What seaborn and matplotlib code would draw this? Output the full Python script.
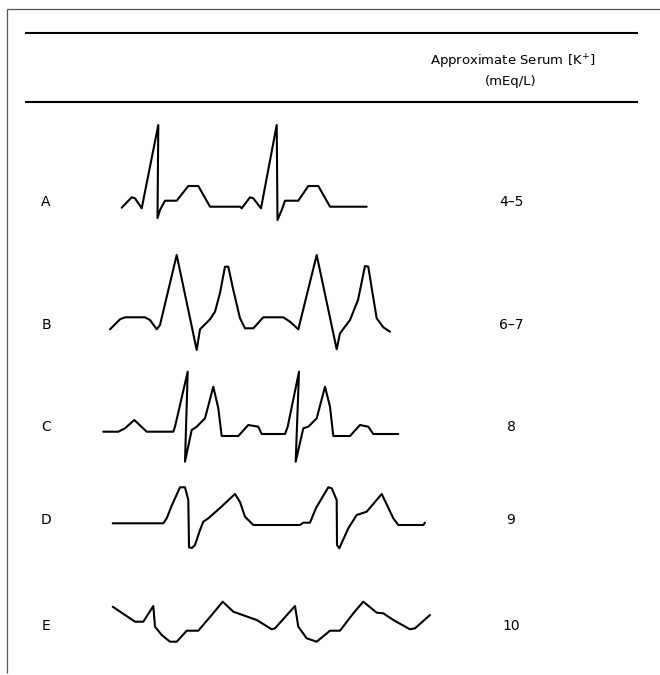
import numpy as np
import pandas as pd
import matplotlib
matplotlib.use("Agg")
import matplotlib.pyplot as plt
import seaborn as sns

# ---------------- data ----------------
rows = ["A", "B", "C", "D", "E"]
serum_k = ["4\u20135", "6\u20137", "8", "9", "10"]
header_line1 = "Approximate Serum [K$^{+}$]"
header_line2 = "(mEq/L)"

# traces: time (px-scale) and amplitude (px-scale, up positive, relative to baseline)
A_t = [121.7, 131.7, 135, 141.7, 158.3, 157.5, 160, 165, 176.7, 188.3, 198.3, 210, 240,
       241.7, 250, 253.3, 261, 276.7, 277.5, 281.7, 285, 298.3, 308.3, 318.3, 330, 366.7]
A_v = [-1, 9.4, 8.4, -1.6, 81.7, -11.3, -3.3, 6, 6, 20.7, 20.7, 0, 0,
       -1.6, 9.4, 8.4, -1.6, 81.7, -13.3, -3.3, 6, 6, 20.7, 20.7, 0, 0]

B_t = [110, 120, 125, 145, 150, 156.7, 160, 176.7, 196.7, 200, 210, 215, 220, 225, 228.3,
       233.3, 240, 245, 253.3, 263.3, 283.3, 290, 298.3, 316.7, 336.7, 340, 350, 358, 365,
       368.3, 372, 376.7, 383.3, 390]
B_v = [-4.3, 5.7, 7.7, 7.7, 5, -4.3, 0, 70, -25, -4.3, 5.7, 13.3, 32, 58.3, 58.3,
       35, 6.7, -3.3, -3.3, 7.7, 7.7, 3.3, -4.3, 70, -24.3, -8.3, 5, 25, 59,
       58.3, 35, 6.7, -2.3, -6.7]

C_t = [103.3, 118.3, 125, 134.3, 146.7, 173.3, 175, 187.7, 185, 191.7, 196.7, 205, 213.3,
       218.3, 221.7, 238.3, 248.3, 258.3, 261.7, 285, 287.7, 299, 295.7, 303.3, 308.3,
       316.7, 325, 330, 333.3, 350, 360, 368.3, 373.3, 398.3]
C_v = [0.3, 0.3, 3.7, 12, 0.3, 0.3, 5.3, 60.3, -29.7, 2, 5.3, 13.7, 45.3,
       23.7, -4, -4, 7, 5.3, -2, -2, 5.3, 60.3, -29.7, 3.7, 5.3,
       13.7, 45.3, 25.3, -4, -4, 7, 5.3, -2, -2]

D_t = [112.7, 163.3, 166.7, 172, 180, 185, 188.3, 189, 192, 195, 200, 203.3, 208.3, 220,
       235, 240, 245, 253.3, 300, 303.3, 310, 316, 328.3, 331.7, 336.7, 337, 339.3, 348.3,
       356.7, 366.7, 381.7, 387, 393.3, 398.3, 423.3, 425]
D_v = [0, 0, 5, 18.3, 36, 36, 23.3, -24, -24.7, -21.7, -6.7, 1.6, 5, 15.3,
       29.3, 21.3, 6.6, -1.7, -1.7, 0.6, 0.6, 15.3, 36, 35, 23.3, -21.7, -25, -5,
       8.3, 11.6, 29.3, 18.3, 5, -1.7, -1.7, 0.6]

E_t = [112.7, 125, 135, 143.3, 153.3, 155, 161.7, 170, 176.7, 186.7, 198.3, 211.7, 222.7,
       233.3, 256.7, 271.7, 275, 295, 298.3, 306.7, 316.7, 330, 340, 353.3, 363.3, 376.7,
       383.3, 393.3, 410, 415, 430]
E_v = [13.3, 5, -1.7, -1.7, 14, -6.7, -15, -21.7, -21.7, -10.7, -10.7, 5, 18.3,
       8.3, 0, -9.3, -8.3, 14, -6.7, -18.3, -21.7, -10.7, -10.7, 6.7, 18.3, 7.3,
       6.7, 0, -9.3, -8.3, 5]

traces = [(A_t, A_v), (B_t, B_v), (C_t, C_v), (D_t, D_v), (E_t, E_v)]

# ---------------- layout ----------------
baselines = [206.7, 325, 432, 523.3, 620]
label_y = [202, 325, 427, 520, 626]
label_x = 46
value_x = 511

sns.set_theme(style="white")
plt.rcParams["font.family"] = ["DejaVu Sans"]
plt.rcParams["text.color"] = "black"

fig = plt.figure(figsize=(6.6, 6.75), dpi=100)
ax = fig.add_axes([0, 0, 1, 1])

# outer frame (top & left)
ax.plot([7, 660], [9, 9], color="#555555", lw=0.9, solid_capstyle="butt")
ax.plot([7, 7], [9, 673], color="#555555", lw=0.9, solid_capstyle="butt")
# table rules
ax.plot([25, 638], [33, 33], color="black", lw=1.5, solid_capstyle="butt")
ax.plot([25, 638], [102, 102], color="black", lw=1.5, solid_capstyle="butt")

ax.text(513, 62, header_line1, ha="center", va="center", fontsize=9.5, color="black")
ax.text(511, 81, header_line2, ha="center", va="center", fontsize=9.5, color="black")

for i, (t, v) in enumerate(traces):
    df = pd.DataFrame({"t": t, "y": baselines[i] - np.asarray(v)})
    sns.lineplot(data=df, x="t", y="y", sort=False, estimator=None,
                 color="black", lw=1.5, ax=ax)
    ax.text(label_x, label_y[i], rows[i], ha="center", va="center",
            fontsize=10, color="black")
    ax.text(value_x, label_y[i], serum_k[i], ha="center", va="center",
            fontsize=10, color="black")

ax.set_xlim(0, 660)
ax.set_ylim(675, 0)
ax.axis("off")
fig.savefig("out.png", dpi=100)
